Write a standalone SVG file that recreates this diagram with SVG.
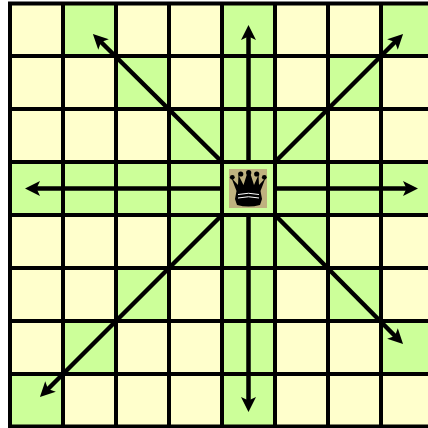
<svg xmlns="http://www.w3.org/2000/svg" width="428" height="428" viewBox="0 0 428 428">
<style>
.g{fill:#CCFF99}
.grid{stroke:#000;stroke-width:4;fill:none}
.a{stroke:#000;stroke-width:4.500;fill:none;marker-end:url(#h)}
</style>
<defs>
<marker id="h" markerUnits="userSpaceOnUse" markerWidth="18" markerHeight="16" refX="5" refY="7.500" orient="auto" viewBox="0 0 18 15"><path d="M0 0L15 7.500L0 15L3.500 7.500Z" fill="#000"/></marker>
</defs>
<rect width="428" height="428" fill="#fff"/>
<rect x="10" y="3.500" width="418" height="423" fill="#FFFFCC"/>
<g id="squares">
<path class="g" d="M63 3.500h53v53h-53zM222 3.500h53v53h-53zM381 3.500h47v53h-47z
M116 56h53v53h-53zM222 56h53v53h-53zM328 56h53v53h-53z
M169 109h159v53h-159z
M10 162h418v53h-418z
M169 215h159v53h-159z
M116 268h53v53h-53zM222 268h53v53h-53zM328 268h53v53h-53z
M63 321h53v53h-53zM222 321h53v53h-53zM381 321h47v53h-47z
M10 374h53v52h-53zM222 374h53v52h-53z"/>
</g>
<g id="grid" class="grid">
<path d="M10 2V428M63 2V428M116 2V428M169 2V428M222 2V428M275 2V428M328 2V428M381 2V428"/>
<path d="M8 3.500H428M8 56H428M8 109H428M8 162H428M8 215H428M8 268H428M8 321H428M8 374H428M8 426.500H428"/>
</g>
<g id="connectors">
<path class="a" d="M248.500 162V35"/>
<path class="a" d="M248.500 215V402"/>
<path class="a" d="M222 188.500H35"/>
<path class="a" d="M275 188.500H408"/>
<path class="a" d="M222 162L100 41"/>
<path class="a" d="M275 162L396 41"/>
<path class="a" d="M275 215L396 337"/>
<path class="a" d="M222 215L47 390"/>
</g>
<g id="queen">
<rect x="229" y="169" width="38" height="39" fill="#BFB27F"/>
<g fill="#000">
<circle cx="232.300" cy="177.300" r="2.400"/>
<circle cx="240.700" cy="174" r="2.600"/>
<circle cx="248.700" cy="172.700" r="2.600"/>
<circle cx="256.700" cy="174" r="2.600"/>
<circle cx="264.300" cy="177.300" r="2.400"/>
<path d="M231.500 178L238 185L238.500 175L243.500 185L247 174H250.500L254 185L258.500 175L259 185L265.500 178L260.500 191L262 199L260 205Q248.500 208 237 205L235 199L236.500 191Z"/>
</g>
<path d="M238 194.500Q248.500 192 259 194.500M238 198Q248.500 195.500 259 198" fill="none" stroke="#fff" stroke-width="1"/>
</g>
</svg>
